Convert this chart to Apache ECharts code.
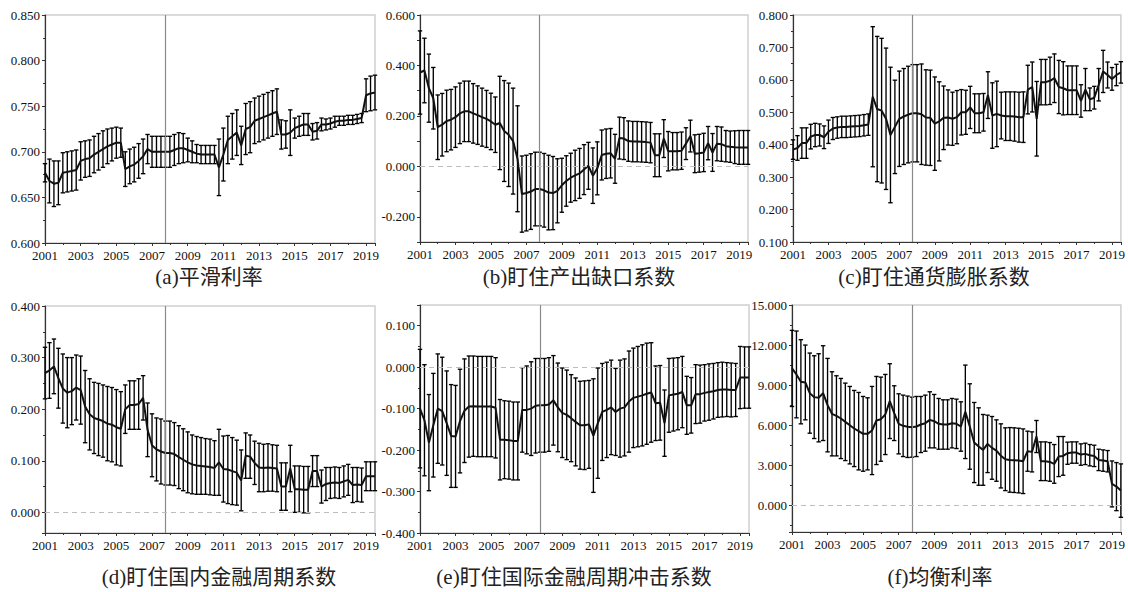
<!DOCTYPE html>
<html><head><meta charset="utf-8">
<script src="https://cdn.jsdelivr.net/npm/echarts@6/dist/echarts.min.js"></script>
<style>html,body{margin:0;padding:0;background:#fff}#c{width:1128px;height:592px}</style>
</head><body><div id="c"></div><script>
// quarterly observations 2001Q1 .. 2019Q3 (75 quarters); x = years since 2001
const startYear = 2001;
const breakQuarter = 27; // vertical reference line (2007Q4)

const aMean = [0.677,0.668,0.665,0.666,0.677,0.678,0.679,0.680,0.690,0.692,
 0.693,0.697,0.700,0.703,0.706,0.708,0.710,0.710,0.681,0.684,
 0.686,0.690,0.695,0.703,0.700,0.700,0.700,0.700,0.700,0.702,
 0.704,0.704,0.702,0.700,0.698,0.697,0.697,0.697,0.697,0.683,
 0.697,0.713,0.717,0.721,0.707,0.725,0.727,0.734,0.736,0.738,
 0.740,0.742,0.744,0.719,0.719,0.721,0.726,0.728,0.730,0.730,
 0.722,0.723,0.730,0.730,0.731,0.733,0.734,0.734,0.735,0.735,
 0.736,0.737,0.762,0.764,0.765];
const aErr = [0.010,0.024,0.025,0.024,0.022,0.022,0.022,0.022,0.021,0.020,
 0.020,0.020,0.020,0.020,0.019,0.018,0.017,0.016,0.019,0.019,
 0.019,0.019,0.019,0.016,0.017,0.017,0.017,0.017,0.017,0.017,
 0.017,0.016,0.013,0.012,0.010,0.010,0.010,0.010,0.010,0.031,
 0.029,0.026,0.025,0.025,0.021,0.028,0.028,0.025,0.025,0.025,
 0.025,0.025,0.025,0.016,0.015,0.025,0.011,0.011,0.012,0.012,
 0.009,0.009,0.007,0.006,0.006,0.006,0.005,0.005,0.005,0.005,
 0.005,0.005,0.018,0.019,0.019];

const bMean = [0.372,0.38,0.31,0.27,0.155,0.165,0.18,0.185,0.195,0.21,
 0.218,0.218,0.21,0.203,0.195,0.188,0.178,0.165,0.172,0.14,
 0.125,0.1,0.03,-0.11,-0.106,-0.1,-0.09,-0.09,-0.095,-0.104,
 -0.106,-0.097,-0.075,-0.058,-0.045,-0.036,-0.028,-0.013,0.002,-0.037,
 -0.008,0.045,0.05,0.052,0.03,0.112,0.11,0.1,0.098,0.098,
 0.097,0.096,0.094,0.044,0.044,0.11,0.06,0.06,0.06,0.062,
 0.09,0.12,0.05,0.052,0.055,0.092,0.055,0.09,0.088,0.08,
 0.078,0.076,0.075,0.075,0.075];
const bErr = [0.165,0.128,0.135,0.122,0.128,0.124,0.122,0.12,0.12,0.12,
 0.12,0.12,0.118,0.116,0.115,0.113,0.112,0.11,0.185,0.2,
 0.205,0.21,0.21,0.151,0.15,0.15,0.146,0.146,0.146,0.148,
 0.145,0.127,0.107,0.1,0.097,0.1,0.099,0.099,0.093,0.11,
 0.105,0.099,0.098,0.098,0.097,0.083,0.083,0.08,0.08,0.08,
 0.08,0.08,0.08,0.085,0.085,0.075,0.078,0.074,0.074,0.074,
 0.063,0.063,0.075,0.075,0.076,0.066,0.075,0.068,0.068,0.062,
 0.062,0.065,0.067,0.067,0.067];

const cMean = [0.385,0.39,0.405,0.405,0.425,0.43,0.43,0.423,0.44,0.45,
 0.453,0.455,0.455,0.456,0.457,0.458,0.46,0.462,0.548,0.51,
 0.505,0.48,0.43,0.455,0.48,0.487,0.493,0.497,0.497,0.494,
 0.484,0.483,0.465,0.472,0.483,0.484,0.48,0.485,0.5,0.5,
 0.515,0.497,0.497,0.5,0.553,0.49,0.495,0.49,0.488,0.488,
 0.487,0.485,0.485,0.57,0.578,0.48,0.593,0.593,0.597,0.605,
 0.578,0.574,0.568,0.568,0.568,0.535,0.57,0.54,0.545,0.585,
 0.626,0.615,0.603,0.615,0.623];
const cErr = [0.03,0.038,0.047,0.047,0.038,0.036,0.034,0.035,0.036,0.034,
 0.033,0.033,0.033,0.033,0.033,0.033,0.033,0.033,0.216,0.224,
 0.223,0.218,0.209,0.144,0.147,0.148,0.149,0.15,0.15,0.155,
 0.147,0.147,0.144,0.122,0.098,0.085,0.082,0.082,0.07,0.068,
 0.065,0.06,0.06,0.058,0.072,0.101,0.101,0.072,0.075,0.075,
 0.076,0.077,0.078,0.075,0.077,0.115,0.07,0.07,0.073,0.075,
 0.082,0.082,0.075,0.075,0.075,0.05,0.065,0.035,0.035,0.05,
 0.065,0.04,0.035,0.033,0.033];

const dMean = [0.27,0.275,0.283,0.26,0.24,0.232,0.235,0.242,0.237,0.205,
 0.19,0.183,0.18,0.177,0.172,0.17,0.165,0.162,0.2,0.208,
 0.208,0.21,0.222,0.16,0.13,0.122,0.118,0.115,0.115,0.113,
 0.107,0.102,0.097,0.093,0.091,0.09,0.089,0.088,0.086,0.097,
 0.084,0.083,0.08,0.077,0.062,0.11,0.108,0.096,0.087,0.086,
 0.087,0.086,0.085,0.05,0.05,0.085,0.045,0.045,0.044,0.044,
 0.08,0.08,0.05,0.055,0.057,0.058,0.057,0.06,0.063,0.053,
 0.054,0.053,0.07,0.07,0.07];
const dErr = [0.05,0.054,0.053,0.058,0.067,0.068,0.065,0.063,0.066,0.07,
 0.069,0.069,0.07,0.07,0.072,0.072,0.073,0.072,0.047,0.047,
 0.047,0.049,0.043,0.052,0.061,0.061,0.063,0.062,0.062,0.061,
 0.061,0.06,0.059,0.057,0.056,0.055,0.054,0.054,0.053,0.064,
 0.064,0.066,0.065,0.063,0.059,0.044,0.042,0.042,0.047,0.046,
 0.046,0.045,0.045,0.046,0.046,0.045,0.045,0.045,0.045,0.045,
 0.03,0.03,0.032,0.032,0.03,0.03,0.03,0.03,0.03,0.034,
 0.033,0.033,0.028,0.028,0.028];

const eMean = [-0.1,-0.128,-0.182,-0.14,-0.1,-0.106,-0.135,-0.166,-0.167,-0.13,
 -0.105,-0.095,-0.094,-0.095,-0.095,-0.095,-0.095,-0.098,-0.175,-0.175,
 -0.176,-0.178,-0.178,-0.103,-0.103,-0.1,-0.093,-0.092,-0.092,-0.09,
 -0.08,-0.097,-0.11,-0.115,-0.123,-0.132,-0.14,-0.14,-0.138,-0.165,
 -0.135,-0.108,-0.103,-0.097,-0.108,-0.1,-0.097,-0.083,-0.074,-0.071,
 -0.068,-0.064,-0.061,-0.087,-0.086,-0.135,-0.068,-0.066,-0.064,-0.06,
 -0.092,-0.092,-0.065,-0.065,-0.062,-0.06,-0.058,-0.055,-0.054,-0.054,
 -0.055,-0.055,-0.025,-0.025,-0.025];
const eErr = [0.143,0.134,0.116,0.125,0.132,0.13,0.126,0.124,0.123,0.125,
 0.125,0.122,0.121,0.121,0.121,0.121,0.121,0.121,0.097,0.094,
 0.094,0.094,0.094,0.102,0.106,0.113,0.114,0.113,0.113,0.113,
 0.108,0.107,0.108,0.108,0.105,0.106,0.106,0.107,0.106,0.137,
 0.133,0.117,0.115,0.114,0.105,0.117,0.117,0.122,0.12,0.121,
 0.122,0.122,0.12,0.09,0.09,0.08,0.089,0.088,0.087,0.086,
 0.07,0.067,0.071,0.07,0.068,0.068,0.067,0.066,0.066,0.065,
 0.065,0.064,0.075,0.074,0.074];

const fMean = [10.25,9.8,9.25,9.2,8.4,8.1,8.05,8.4,7.5,6.85,
 6.7,6.5,6.25,6.0,5.75,5.55,5.35,5.35,5.6,6.35,
 6.45,6.8,7.8,6.9,6.1,5.95,5.88,5.85,5.9,6.05,
 6.15,6.4,6.3,6.1,6.05,6.05,6.15,6.1,5.9,7.0,
 5.9,4.7,4.4,4.15,4.6,4.3,4.1,3.7,3.45,3.4,
 3.38,3.35,3.3,4.05,4.0,5.15,3.3,3.3,3.25,3.1,
 3.65,3.7,3.9,3.95,3.95,3.8,3.85,3.75,3.7,3.4,
 3.35,3.3,1.6,1.4,1.1];
const fErr = [2.85,3.25,3.15,2.8,3.0,3.1,3.3,3.55,3.5,3.15,
 3.0,3.0,2.9,2.9,2.85,2.9,2.8,2.7,3.3,3.3,
 3.15,3.0,2.8,2.05,2.25,2.3,2.3,2.25,2.25,2.1,
 2.1,2.1,2.0,1.9,1.85,1.85,1.85,1.85,1.85,3.5,
 3.2,3.0,2.9,2.65,2.15,2.35,2.3,2.4,2.35,2.42,
 2.42,2.42,2.42,1.5,1.5,1.2,1.45,1.45,1.45,1.45,
 1.5,1.45,0.83,0.8,0.8,0.8,0.8,0.8,0.8,0.8,
 0.8,0.8,1.72,1.8,2.0];

const titles = ['(a)平滑利率','(b)盯住产出缺口系数','(c)盯住通货膨胀系数',
 '(d)盯住国内金融周期系数','(e)盯住国际金融周期冲击系数','(f)均衡利率'];

// layout (pixels)
const panels = [
 {mean:aMean, err:aErr, g:[45,15,330,228], y:{min:0.6,max:0.85,interval:0.05}, zero:false, t:[209,277]},
 {mean:bMean, err:bErr, g:[420,15,328,227], y:{min:-0.3,max:0.6,interval:0.1}, skipOdd:true, zero:true, t:[579,277]},
 {mean:cMean, err:cErr, g:[793,15,328,227], y:{min:0.1,max:0.8,interval:0.1}, zero:false, t:[934,277]},
 {mean:dMean, err:dErr, g:[45,306,330,227], y:{min:-0.04,max:0.4}, hideMin:true, zero:true, t:[219,577]},
 {mean:eMean, err:eErr, g:[420,305,329,228], y:{min:-0.4,max:0.15,interval:0.1}, hideMax:true, zero:true, t:[574,577]},
 {mean:fMean, err:fErr, g:[792,305,329,227], y:{min:-2,max:15}, hideMin:true, zero:true, t:[940,577]}
];

const labelFont = {fontFamily:'Liberation Serif', fontSize:13, color:'#111'};
const grids=[], xAxes=[], yAxes=[], series=[], graphics=[];
const xMax = (aMean.length-1)/4;

panels.forEach((p,k)=>{
  grids.push({left:p.g[0], top:p.g[1], width:p.g[2], height:p.g[3], show:true,
    borderColor:'#cfcfcf', borderWidth:1.5, backgroundColor:'transparent'});
  xAxes.push({type:'value', gridIndex:k, min:0, max:xMax, interval:2,
    axisLine:{onZero:false, lineStyle:{color:'#333', width:1.2}},
    axisTick:{show:true, length:3, lineStyle:{color:'#333'}},
    minorTick:{show:true, splitNumber:2, length:2, lineStyle:{color:'#333'}},
    splitLine:{show:false},
    axisLabel:Object.assign({margin:6, showMaxLabel:false,
      formatter:v=>String(Math.round(startYear+v))}, labelFont)});
  const y = {type:'value', gridIndex:k, min:p.y.min, max:p.y.max,
    axisLine:{show:true, onZero:false, lineStyle:{color:'#333', width:1.2}},
    axisTick:{show:true, length:3, lineStyle:{color:'#333'}},
    minorTick:{show:!p.skipOdd, splitNumber:2, length:2, lineStyle:{color:'#333'}},
    splitLine:{show:false},
    axisLabel:Object.assign({margin:5,
      showMinLabel:!p.hideMin, showMaxLabel:!p.hideMax,
      formatter:v=>{
        if (p.skipOdd && Math.abs(Math.round(v*10))%2===1) return '';
        const s=(Math.abs(v)<1e-9?0:v).toFixed(3); return s;}}, labelFont)};
  if (p.y.interval) y.interval = p.y.interval;
  yAxes.push(y);

  const mlData = [{xAxis: breakQuarter/4, lineStyle:{color:'#8a8a8a', width:1.2, type:'solid'}}];
  if (p.zero) mlData.push({yAxis:0, lineStyle:{color:'#bdbdbd', width:1.2, type:[5,4]}});

  series.push({type:'custom', xAxisIndex:k, yAxisIndex:k, silent:true, z:2,
    data:p.mean.map((m,i)=>[i/4, m-p.err[i], m+p.err[i]]),
    encode:{x:0, y:[1,2]},
    renderItem:(params, api)=>{
      const x = api.value(0);
      const top = api.coord([x, api.value(2)]);
      const bot = api.coord([x, api.value(1)]);
      const st = {stroke:'#000', lineWidth:1.35};
      return {type:'group', children:[
        {type:'line', shape:{x1:top[0],y1:top[1],x2:bot[0],y2:bot[1]}, style:st},
        {type:'line', shape:{x1:top[0]-2.2,y1:top[1],x2:top[0]+2.2,y2:top[1]}, style:st},
        {type:'line', shape:{x1:bot[0]-2.2,y1:bot[1],x2:bot[0]+2.2,y2:bot[1]}, style:st}
      ]};
    }});
  series.push({type:'line', xAxisIndex:k, yAxisIndex:k, z:3, symbol:'none', silent:true,
    data:p.mean.map((m,i)=>[i/4, m]),
    lineStyle:{color:'#111', width:2},
    markLine:{silent:true, symbol:['none','none'], label:{show:false}, animation:false, data:mlData}});

  graphics.push({type:'text', x:p.t[0], y:p.t[1],
    style:{text:titles[k], fill:'#222', font:"21px 'Liberation Serif','Noto Sans CJK SC'",
      textAlign:'center', textVerticalAlign:'middle', align:'center', verticalAlign:'middle'}});
});

const chart = echarts.init(document.getElementById('c'), null, {renderer:'svg'});
chart.setOption({animation:false, backgroundColor:'#fff', grid:grids, xAxis:xAxes, yAxis:yAxes, series, graphic:graphics});
</script></body></html>
